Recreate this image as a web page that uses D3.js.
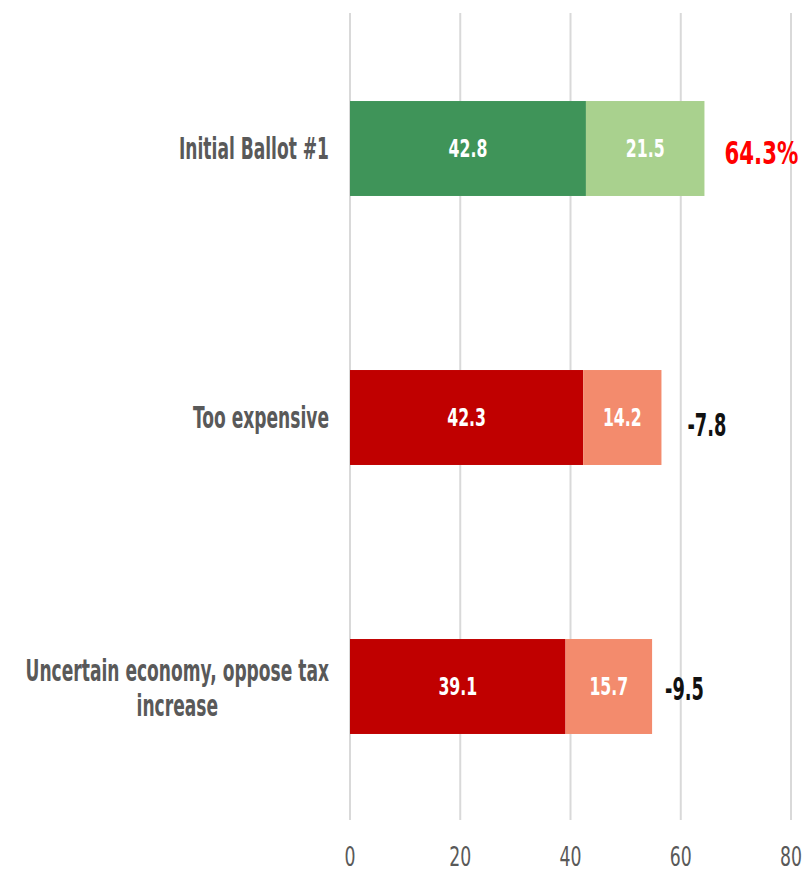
<!DOCTYPE html>
<html>
<head>
<meta charset="utf-8">
<script src="https://cdn.jsdelivr.net/npm/d3@7"></script>
<style>
  html, body { margin: 0; padding: 0; background: #ffffff; }
  svg text { font-family: "DejaVu Sans Condensed", "DejaVu Sans", sans-serif; }
</style>
</head>
<body>
<svg id="chart" width="805" height="873"></svg>
<script>
// Categories (top to bottom) and the two stacked series
const categories = ["Initial Ballot #1", "Too expensive", "Uncertain economy, oppose tax increase"];
const categoryLines = [["Initial Ballot #1"], ["Too expensive"], ["Uncertain economy, oppose tax", "increase"]];
const strongValues = [42.8, 42.3, 39.1];
const weakValues = [21.5, 14.2, 15.7];
const xTicks = [0, 20, 40, 60, 80];

// Styling per row
const strongColors = ["#3f9459", "#c00000", "#c00000"];
const weakColors = ["#a9d18e", "#f38b6d", "#f38b6d"];
const noteColors = ["#ff0000", "#111111", "#111111"];
const noteGap = [20, 26, 13];
const noteDrop = [5, 8, 3];

const svg = d3.select("#chart");

const x = d3.scaleLinear().domain([0, 80]).range([350, 791]);
const y = d3.scaleBand().domain(categories).range([14, 821])
  .paddingInner(0.647).paddingOuter(0.3235);

// Text helper: narrow, slightly tall lettering via a non-uniform scale
const SX = 0.76;
function label(g, txt, px, py, opts) {
  const sx = opts.sx || SX, sy = opts.sy || 1;
  return g.append("text")
    .attr("transform", `translate(${px},${py}) scale(${sx},${sy})`)
    .attr("text-anchor", opts.anchor || "middle")
    .attr("dominant-baseline", "central")
    .attr("font-size", opts.size)
    .attr("font-weight", opts.weight || "bold")
    .attr("fill", opts.fill)
    .text(txt);
}

// Vertical gridlines
svg.append("g").selectAll("line").data(xTicks).join("line")
  .attr("x1", d => x(d)).attr("x2", d => x(d))
  .attr("y1", 13).attr("y2", 820)
  .attr("stroke", "#d9d9d9").attr("stroke-width", 2);

// Bottom axis tick labels
const axisG = svg.append("g");
xTicks.forEach(t => label(axisG, String(t), x(t), 857, { size: 24, weight: "normal", fill: "#595959", sx: 0.8, sy: 1.1 }));

// Stacked bars
const rows = categories.map((c, i) => ({
  cat: c, lines: categoryLines[i],
  a: strongValues[i], b: weakValues[i], i
}));

const barsG = svg.append("g");
barsG.selectAll("rect.a").data(rows).join("rect").attr("class", "a")
  .attr("x", d => x(0)).attr("y", d => y(d.cat))
  .attr("width", d => x(d.a) - x(0)).attr("height", y.bandwidth())
  .attr("fill", d => strongColors[d.i]);
barsG.selectAll("rect.b").data(rows).join("rect").attr("class", "b")
  .attr("x", d => x(d.a)).attr("y", d => y(d.cat))
  .attr("width", d => x(d.a + d.b) - x(d.a)).attr("height", y.bandwidth())
  .attr("fill", d => weakColors[d.i]);

// Segment value labels
const valG = svg.append("g");
rows.forEach(d => {
  const cy = y(d.cat) + y.bandwidth() / 2;
  label(valG, d.a.toFixed(1), (x(0) + x(d.a)) / 2, cy, { size: 23, fill: "#ffffff", sx: 0.76, sy: 1.1 });
  label(valG, d.b.toFixed(1), (x(d.a) + x(d.a + d.b)) / 2, cy, { size: 23, fill: "#ffffff", sx: 0.76, sy: 1.1 });
});

// Totals: first row as a share, others as change from the first
const baseTotal = strongValues[0] + weakValues[0];
const noteG = svg.append("g");
rows.forEach(d => {
  const total = d.a + d.b;
  const cy = y(d.cat) + y.bandwidth() / 2 + noteDrop[d.i];
  if (d.i === 0) {
    label(noteG, total.toFixed(1) + "%", x(total) + noteGap[d.i], cy, { size: 32, fill: noteColors[d.i], anchor: "start", sx: 0.74, sy: 1 });
  } else {
    label(noteG, (total - baseTotal).toFixed(1), x(total) + noteGap[d.i], cy, { size: 26, fill: noteColors[d.i], anchor: "start", sx: 0.76, sy: 1.2 });
  }
});

// Category labels: block right-aligned to the axis, lines centred within it
const catG = svg.append("g");
rows.forEach(d => {
  const cy = y(d.cat) + y.bandwidth() / 2;
  const lh = 35;
  const n = d.lines.length;
  const lineY = j => cy + (j - (n - 1) / 2) * lh + (n > 1 ? 2 : 0);
  const texts = d.lines.map((ln, j) =>
    label(catG, ln, 0, lineY(j), { size: 25, fill: "#595959", sx: SX, sy: 1.2 }));
  const maxW = d3.max(texts, t => t.node().getComputedTextLength()) * SX;
  const cx = 329 - maxW / 2;
  texts.forEach((t, j) => t.attr("transform", `translate(${cx},${lineY(j)}) scale(${SX},1.2)`));
});
</script>
</body>
</html>
